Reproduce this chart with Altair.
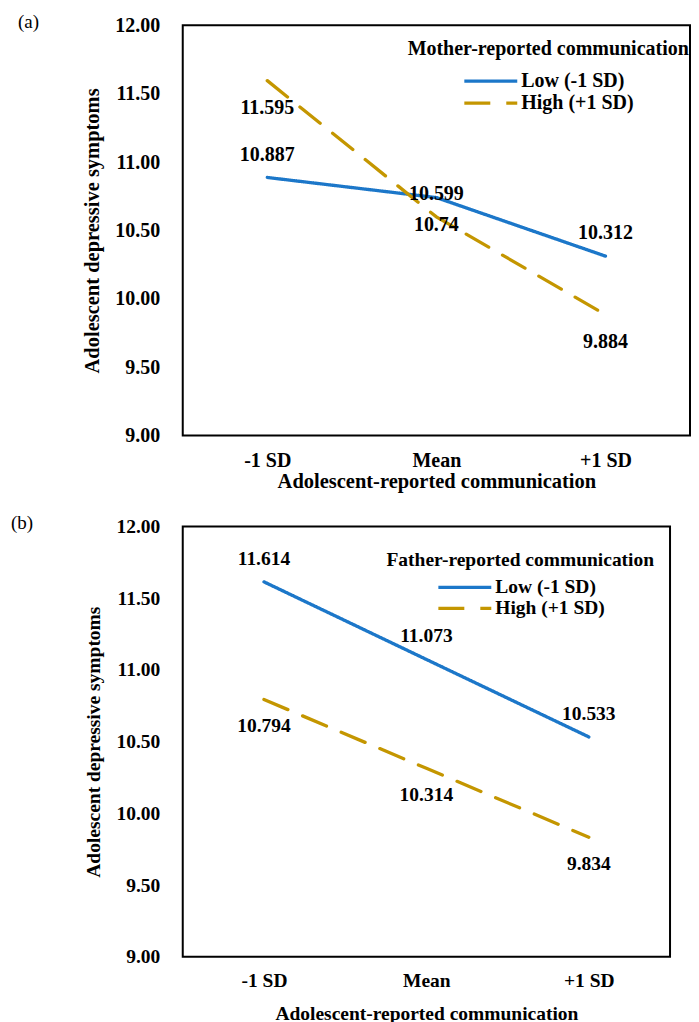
import altair as alt
import pandas as pd

# ---- data ----
x_levels = ["-1 SD", "Mean", "+1 SD"]
series = ["Low (-1 SD)", "High (+1 SD)"]

a_low = [10.887, 10.74, 10.312]
a_high = [11.595, 10.599, 9.884]
b_low = [11.614, 11.073, 10.533]
b_high = [10.794, 10.314, 9.834]

y_ticks = [9.0, 9.5, 10.0, 10.5, 11.0, 11.5, 12.0]

BLUE = "#1C77C9"
GOLD = "#C49600"
FONT = "Liberation Serif"

# which value labels sit below their point (the rest sit above)
below_a = {("High (+1 SD)", "-1 SD"), ("Low (-1 SD)", "Mean"), ("High (+1 SD)", "+1 SD")}
below_b = {("High (+1 SD)", x) for x in x_levels}


def make_df(low, high, below):
    rows = []
    for s, vals in zip(series, [low, high]):
        for x, v in zip(x_levels, vals):
            rows.append({"x": x, "series": s, "value": v, "below": (s, x) in below})
    return pd.DataFrame(rows)


def panel(df, tag, tag_x, legend_title, w, h, fs, fs_title, fs_leg_title,
          xlab_pad, xtitle_pad, leg_x, leg_y, clip_h, row_pad, leg_tpad):
    x = alt.X(
        "x:N", sort=x_levels, title="Adolescent-reported communication",
        axis=alt.Axis(labelAngle=0, ticks=False, domain=False, labelFont=FONT,
                      labelFontWeight="bold", labelFontSize=fs, labelColor="black",
                      labelPadding=xlab_pad, titleFont=FONT, titleFontWeight="bold",
                      titleFontSize=fs_title, titleColor="black", titlePadding=xtitle_pad),
    )
    y = alt.Y(
        "value:Q", title="Adolescent depressive symptoms",
        scale=alt.Scale(domain=[9, 12], nice=False, zero=False),
        axis=alt.Axis(values=y_ticks, format=".2f", grid=False, ticks=False, domain=False,
                      labelFont=FONT, labelFontWeight="bold", labelFontSize=fs,
                      labelColor="black", labelPadding=23, titleFont=FONT,
                      titleFontWeight="bold", titleFontSize=fs_title, titleColor="black",
                      titlePadding=12),
    )
    leg = alt.Legend(
        title=legend_title, orient="none", legendX=leg_x, legendY=leg_y,
        titleAnchor="middle", titleLimit=600, labelLimit=300,
        symbolType="stroke", symbolSize=2809,
        symbolStrokeWidth=3.3, clipHeight=clip_h, rowPadding=row_pad,
        titlePadding=leg_tpad, labelOffset=2, padding=0,
        labelFont=FONT, labelFontWeight="bold", labelFontSize=fs, labelColor="black",
        titleFont=FONT, titleFontWeight="bold", titleFontSize=fs_leg_title,
        titleColor="black",
    )
    color = alt.Color("series:N", scale=alt.Scale(domain=series, range=[BLUE, GOLD]), legend=leg)
    dash = alt.StrokeDash("series:N", scale=alt.Scale(domain=series, range=[[1, 0], [26, 16]]), legend=leg)

    base = alt.Chart(df)
    lines = base.mark_line(strokeWidth=3.3, strokeCap="round").encode(x=x, y=y, color=color, strokeDash=dash)
    txt = dict(font=FONT, fontWeight="bold", fontSize=fs, color="black", baseline="middle", align="center")
    above = base.transform_filter("!datum.below").mark_text(dy=-23, **txt).encode(
        x=x, y=y, text=alt.Text("value:Q"))
    below = base.transform_filter("datum.below").mark_text(dy=27, **txt).encode(
        x=x, y=y, text=alt.Text("value:Q"))
    tagc = alt.Chart(pd.DataFrame({"t": [tag]})).mark_text(
        font=FONT, fontSize=19, color="black", baseline="middle", align="center"
    ).encode(text="t:N", x=alt.value(tag_x), y=alt.value(-3))
    return alt.layer(lines, above, below, tagc).properties(width=w, height=h)


pa = panel(make_df(a_low, a_high, below_a), "(a)", -154.5, "Mother-reported communication",
           508, 411, 20, 20.5, 20, 15, 1, 225, 13.5, 20, 2, 12.5)
pb = panel(make_df(b_low, b_high, below_b), "(b)", -161, "Father-reported communication",
           488, 431, 19.5, 19.5, 19.5, 14.5, 14.5, 204, 25, 19, 1, 7)

chart = (
    alt.vconcat(pa, pb, spacing=91, bounds="flush")
    .resolve_scale(color="independent", strokeDash="independent")
    .resolve_legend(color="independent", strokeDash="independent")
    .properties(padding={"left": 1, "top": 3.5, "right": 0, "bottom": 0})
    .configure_view(stroke="black", strokeWidth=2)
)

chart.save("out.html", embed_options={"renderer": "svg", "actions": False})
